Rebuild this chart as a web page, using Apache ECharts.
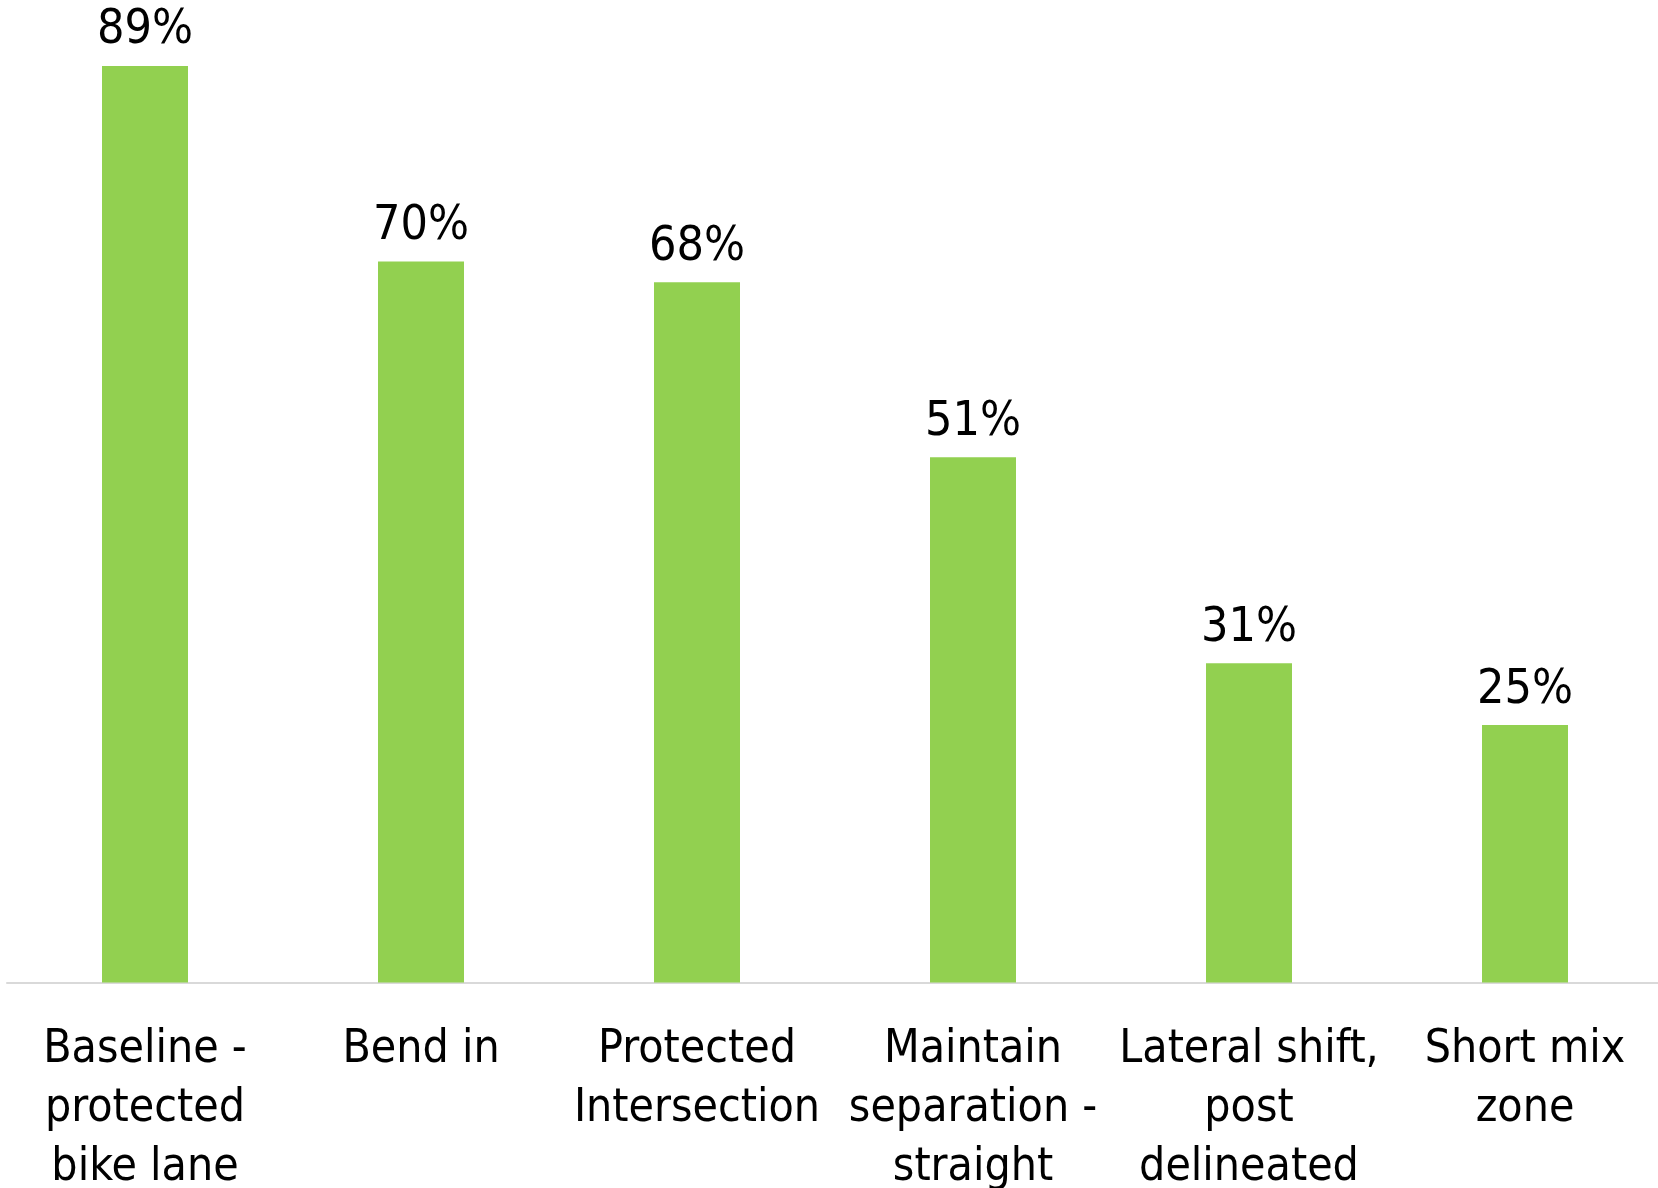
<!DOCTYPE html>
<html>
<head>
<meta charset="utf-8">
<script src="https://cdn.jsdelivr.net/npm/echarts@6/dist/echarts.min.js"></script>
<style>
  html, body { margin: 0; padding: 0; background: #fff; }
  #chart { width: 1658px; height: 1188px; }
</style>
</head>
<body>
<div id="chart"></div>
<script>
var categories = [
    'Baseline -\nprotected\nbike lane',
    'Bend in',
    'Protected\nIntersection',
    'Maintain\nseparation -\nstraight',
    'Lateral shift,\npost\ndelineated',
    'Short mix\nzone'
];
var values = [89, 70, 68, 51, 31, 25];

var font = "'DejaVu Sans Condensed', 'DejaVu Sans', sans-serif";

var myChart = echarts.init(document.getElementById('chart'));

var option = {
    animation: false,
    grid: {
        left: 7,
        width: 1656,
        top: 0,
        bottom: 205.5,
        outerBoundsMode: 'none',
        containLabel: false
    },
    xAxis: {
        type: 'category',
        data: categories,
        axisLine: {
            lineStyle: {color: '#d9d9d9', width: 2}
        },
        axisTick: {show: false},
        axisLabel: {
            interval: 0,
            margin: 38,
            color: '#000',
            fontFamily: font,
            fontSize: 46,
            lineHeight: 59,
            align: 'center'
        }
    },
    yAxis: {
        type: 'value',
        min: 0,
        max: 95.4,
        show: false,
        splitLine: {show: false}
    },
    series: [
        {
            type: 'bar',
            data: values,
            barWidth: 86,
            itemStyle: {color: '#92d050'},
            label: {
                show: true,
                position: 'top',
                distance: 11,
                color: '#000',
                fontFamily: font,
                fontSize: 48,
                formatter: '{c}%'
            }
        }
    ]
};

myChart.setOption(option);
</script>
</body>
</html>
